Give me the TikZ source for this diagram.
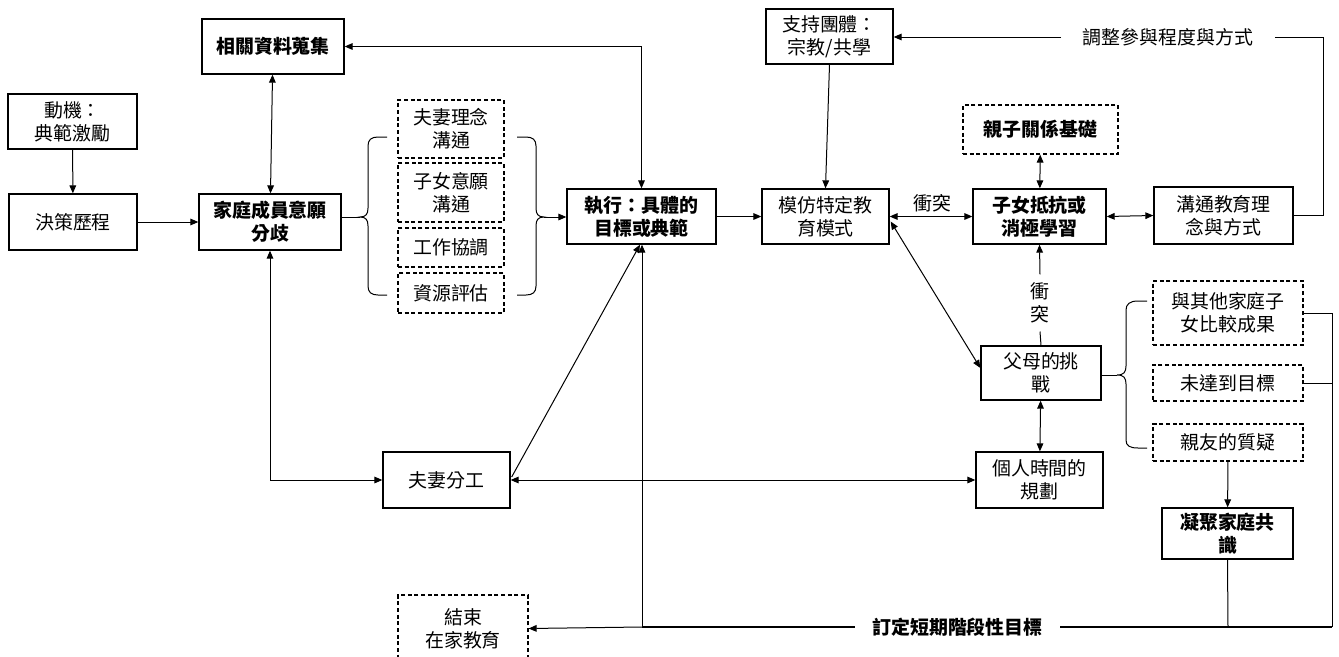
\documentclass[tikz,border=0pt]{standalone}
\usepackage{fontspec}
\setmainfont{Noto Sans CJK TC}
\usetikzlibrary{arrows.meta,calc}
\newcommand\fsz{\fontsize{14.2pt}{17.3pt}\selectfont}
\begin{document}
\begin{tikzpicture}[x=0.75pt,y=-0.75pt,
  every node/.style={font=\fsz, align=center, inner sep=0pt},
  nbox/.style={draw, line width=1pt},
  dbx/.style={draw, line width=0.9pt, dash pattern=on 3pt off 2pt},
  bft/.style={font=\fsz\bfseries},
  wh/.style 2 args={minimum width=#1*0.75pt, minimum height=#2*0.75pt},
  ln/.style={line width=0.75pt},
  arr/.style={ln, -{Triangle[length=6pt,width=5pt]}},
  darr/.style={ln, {Triangle[length=6pt,width=5pt]}-{Triangle[length=6pt,width=5pt]}},
  thk/.style={line width=1.8pt}
]
\useasboundingbox (0,0) rectangle (1339,657);

% nodes
\node[nbox,bft,wh={142}{55}] (rel) at (273,46.5) {相關資料蒐集};
\node[nbox,wh={129}{55}] (mot) at (72.5,121.5) {動機：\\典範激勵};
\node[nbox,wh={128}{56}] (dec) at (73,222) {決策歷程};
\node[nbox,bft,wh={142}{56}] (fam) at (270,222) {家庭成員意願\\分歧};
\node[dbx,wh={106}{58}] (d1) at (451,129) {夫妻理念\\溝通};
\node[dbx,wh={106}{59}] (d2) at (451,192.5) {子女意願\\溝通};
\node[dbx,wh={106}{39}] (d3) at (451,247.5) {工作協調};
\node[dbx,wh={106}{40}] (d4) at (451,293) {資源評估};
\node[nbox,bft,wh={149}{55}] (exe) at (641.5,216.5) {執行：具體的\\目標或典範};
\node[nbox,wh={127}{55}] (imi) at (825.5,216.5) {模仿特定教\\育模式};
\node[nbox,wh={127}{55}] (sup) at (829.5,36.5) {支持團體：\\宗教/共學};
\node[inner xsep=16pt] (adj) at (1168,37) {調整參與程度與方式};
\node[dbx,bft,wh={155}{49}] (par) at (1040.5,129.5) {親子關係基礎};
\node[nbox,bft,wh={133}{55}] (chi) at (1039.5,216.5) {子女抵抗或\\消極學習};
\node[nbox,wh={139}{57}] (com) at (1223.5,215.5) {溝通教育理\\念與方式};
\node (con1) at (932,203) {衝突};
\node[inner ysep=6pt] (con2) at (1040,303) {衝\\突};
\node[nbox,wh={120}{54}] (pch) at (1041,373) {父母的挑\\戰};
\node[nbox,wh={127}{56}] (ptime) at (1039.5,480) {個人時間的\\規劃};
\node[dbx,wh={150}{64}] (e1) at (1228,313) {與其他家庭子\\女比較成果};
\node[dbx,wh={150}{36}] (e2) at (1228,383) {未達到目標};
\node[dbx,wh={150}{37}] (e3) at (1228,442.5) {親友的質疑};
\node[nbox,bft,wh={131}{51}] (coh) at (1227.5,533.5) {凝聚家庭共\\識};
\node[bft,inner xsep=13pt] (goal) at (957.5,627) {訂定短期階段性目標};
\node[nbox,wh={127}{56}] (div) at (446.5,480) {夫妻分工};
\node[dbx,wh={130}{67}] (endn) at (463,628.5) {結束\\在家教育};

% coordinates
\coordinate (bl) at (360,217);
\coordinate (br) at (544,217);
\coordinate (bp) at (1117,375);
\coordinate (adjR) at (1323,215.5);
\coordinate (ej) at (1332,313);
\coordinate (gj) at (1332,627);
\coordinate (cj) at (1228,627);
\coordinate (xj) at (642,627);

% left column
\draw[arr] (mot) -- (dec);
\draw[arr] (dec) -- (fam);
\draw[darr] (rel) -- (fam);
\draw[darr] (rel.east) -| (exe.north);
\draw[darr] (fam.south) |- (div.west);

% braces around the dashed list
\draw[ln] (387,137) -- (378,137) .. controls (371,137) and (368,140) .. (368,146) -- (368,208)
  .. controls (368,214) and (366,217) .. (bl) .. controls (366,217) and (368,220) .. (368,226)
  -- (368,286) .. controls (368,292) and (371,295) .. (378,295) -- (387,295);
\draw[ln] (bl -| fam.east) -- (bl);
\draw[ln] (517,137) -- (526,137) .. controls (533,137) and (536,140) .. (536,146) -- (536,208)
  .. controls (536,214) and (538,217) .. (br) .. controls (538,217) and (536,220) .. (536,226)
  -- (536,286) .. controls (536,292) and (533,295) .. (526,295) -- (517,295);
\draw[arr] (br) -- (br -| exe.west);

% middle
\draw[arr] (exe) -- (imi);
\draw[arr] (sup.south) -- (imi.north);
\draw[arr] (adj.west) -- (adj.west -| sup.east);
\draw[ln] (adj.east) -| (adjR) -- (com.east);
\draw[darr] (imi.east) -- (chi.west);
\draw[darr] (par) -- (chi);
\draw[darr] (chi.east) -- (com.west);
\draw[arr] (con2.north) -- (chi.south);
\draw[ln] (con2.south) -- (pch.north);
\draw[darr] ([shift={(1,5)}]imi.east) -- ([shift={(0,-5)}]pch.west);
\draw[darr] (pch) -- (ptime);
\draw[darr] (div) -- (ptime);
\draw[arr] ([shift={(1,-3)}]div.east) -- ([shift={(-1.5,0)}]exe.south);

% right brace
\draw[ln] (1147,301) -- (1138,301) .. controls (1130,301) and (1126,304) .. (1126,310) -- (1126,366)
  .. controls (1126,372) and (1124,375) .. (bp) .. controls (1124,375) and (1126,378) .. (1126,384)
  -- (1126,440) .. controls (1126,446) and (1130,448) .. (1138,448) -- (1147,448);
\draw[ln] (bp -| pch.east) -- (bp);

% right return lines
\draw[ln] (e1.east) -- (ej) -- (gj);
\draw[ln] (e2.east) -- (e2.east -| ej);
\draw[arr] (e3) -- (coh);
\draw[ln] (coh.south) -- (cj);
\draw[thk] (gj) -- (goal.east);
\draw[thk] (goal.west) -- (xj);
\draw[arr] (xj) -- (endn.east);
\draw[arr] (xj) -- (xj |- exe.south);
\end{tikzpicture}
\end{document}
